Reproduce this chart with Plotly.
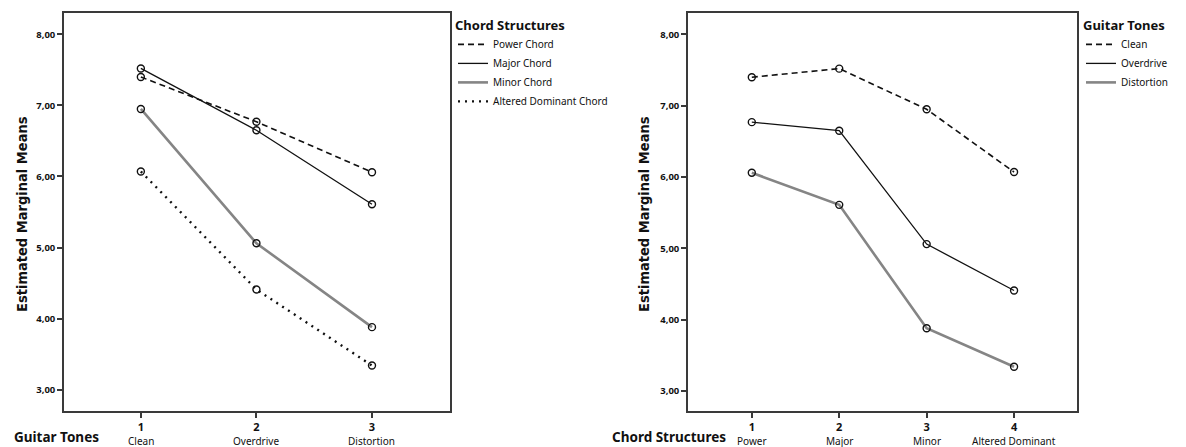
import plotly.graph_objects as go

# ---- data ----
tone_names = ["Clean", "Overdrive", "Distortion"]
tone_codes = [1, 2, 3]
chord_names = ["Power", "Major", "Minor", "Altered Dominant"]
chord_codes = [1, 2, 3, 4]
chord_legend = ["Power Chord", "Major Chord", "Minor Chord", "Altered Dominant Chord"]

# means[chord][tone]
power_chord = [7.40, 6.77, 6.06]
major_chord = [7.52, 6.65, 5.61]
minor_chord = [6.95, 5.06, 3.88]
altered_chord = [6.07, 4.41, 3.34]

clean_tone = [7.40, 7.52, 6.95, 6.07]
overdrive_tone = [6.77, 6.65, 5.06, 4.41]
distortion_tone = [6.06, 5.61, 3.88, 3.34]

y_ticks = [3, 4, 5, 6, 7, 8]

# ---- styles ----
styles = [
    dict(color="#111111", width=1.6, dash="6px,4px"),
    dict(color="#111111", width=1.3, dash="solid"),
    dict(color="#858585", width=2.6, dash="solid"),
    dict(color="#111111", width=2.4, dash="2px,5px"),
]
FONT = "Noto Sans"
fig = go.Figure()

left_series = [power_chord, major_chord, minor_chord, altered_chord]
for name, vals, st in zip(chord_legend, left_series, styles):
    fig.add_trace(go.Scatter(x=tone_codes, y=vals, mode="lines", name=name,
                             line=st, xaxis="x", yaxis="y", legend="legend"))
    fig.add_trace(go.Scatter(x=tone_codes, y=vals, mode="markers", showlegend=False,
                             marker=dict(symbol="circle-open", size=7, color="#111111",
                                         line=dict(width=1.4)),
                             xaxis="x", yaxis="y"))

right_series = [clean_tone, overdrive_tone, distortion_tone]
for name, vals, st in zip(tone_names, right_series, styles[:3]):
    fig.add_trace(go.Scatter(x=chord_codes, y=vals, mode="lines", name=name,
                             line=st, xaxis="x2", yaxis="y2", legend="legend2"))
    fig.add_trace(go.Scatter(x=chord_codes, y=vals, mode="markers", showlegend=False,
                             marker=dict(symbol="circle-open", size=7, color="#111111",
                                         line=dict(width=1.4)),
                             xaxis="x2", yaxis="y2"))

W, H = 1186, 447
ydom = [1 - 411 / H, 1 - 13 / H]

axis_common = dict(showgrid=False, zeroline=False, showline=True, mirror=True,
                   linecolor="#3a3a3a", linewidth=1.6, ticks="outside", ticklen=5,
                   tickwidth=1.6, tickcolor="#3a3a3a")

fig.update_layout(
    width=W, height=H,
    margin=dict(l=0, r=0, t=0, b=0),
    paper_bgcolor="white", plot_bgcolor="white",
    separators=",.",
    font=dict(family=FONT, color="#111111"),
    xaxis=dict(domain=[64 / W, 450 / W], range=[0.335, 3.675], tickvals=tone_codes,
               ticktext=[f"<b>{c}</b>" for c in tone_codes],
               tickfont=dict(size=11, family=FONT), anchor="y", **axis_common),
    yaxis=dict(domain=ydom, range=[2.7, 8.3], tickvals=y_ticks, tickformat=".2f",
               tickfont=dict(size=9.5, family=FONT, weight="bold"), anchor="x", **axis_common),
    xaxis2=dict(domain=[688 / W, 1077 / W], range=[0.27, 4.72], tickvals=chord_codes,
                ticktext=[f"<b>{c}</b>" for c in chord_codes],
                tickfont=dict(size=11, family=FONT), anchor="y2", **axis_common),
    yaxis2=dict(domain=ydom, range=[2.72, 8.3], tickvals=y_ticks, tickformat=".2f",
                tickfont=dict(size=9.5, family=FONT, weight="bold"), anchor="x2", **axis_common),
    legend=dict(x=453 / W, y=1 - 13 / H, xanchor="left", yanchor="top",
                title=dict(text="<b>Chord Structures</b>", font=dict(size=13, family=FONT)),
                font=dict(size=10, family=FONT), bgcolor="rgba(0,0,0,0)",
                tracegroupgap=0, itemwidth=30),
    legend2=dict(x=1081 / W, y=1 - 13 / H, xanchor="left", yanchor="top",
                 title=dict(text="<b>Guitar Tones</b>", font=dict(size=13, family=FONT)),
                 font=dict(size=10, family=FONT), bgcolor="rgba(0,0,0,0)",
                 tracegroupgap=0, itemwidth=30),
)

ann = []
for c, n in zip(tone_codes, tone_names):
    ann.append(dict(x=c, y=1 - 441 / H, xref="x", yref="paper", text=n, showarrow=False,
                    font=dict(size=10, family=FONT), xanchor="center", yanchor="middle"))
for c, n in zip(chord_codes, chord_names):
    ann.append(dict(x=c, y=1 - 441 / H, xref="x2", yref="paper", text=n, showarrow=False,
                    font=dict(size=10, family=FONT), xanchor="center", yanchor="middle"))
ann.append(dict(x=12 / W, y=1 - 437 / H, xref="paper", yref="paper", text="<b>Guitar Tones</b>",
                showarrow=False, font=dict(size=13.5, family=FONT), xanchor="left", yanchor="middle"))
ann.append(dict(x=610 / W, y=1 - 437 / H, xref="paper", yref="paper", text="<b>Chord Structures</b>",
                showarrow=False, font=dict(size=13.5, family=FONT), xanchor="left", yanchor="middle"))
for xc in [22, 644]:
    ann.append(dict(x=xc / W, y=1 - 214 / H, xref="paper", yref="paper",
                    text="<b>Estimated Marginal Means</b>", textangle=-90, showarrow=False,
                    font=dict(size=14.5, family="DejaVu Sans Condensed", weight="bold"),
                    xanchor="center", yanchor="middle"))
fig.update_layout(annotations=ann)

fig.write_html("out.html", config={"displayModeBar": False},
               post_script="document.body.style.margin='0';")
